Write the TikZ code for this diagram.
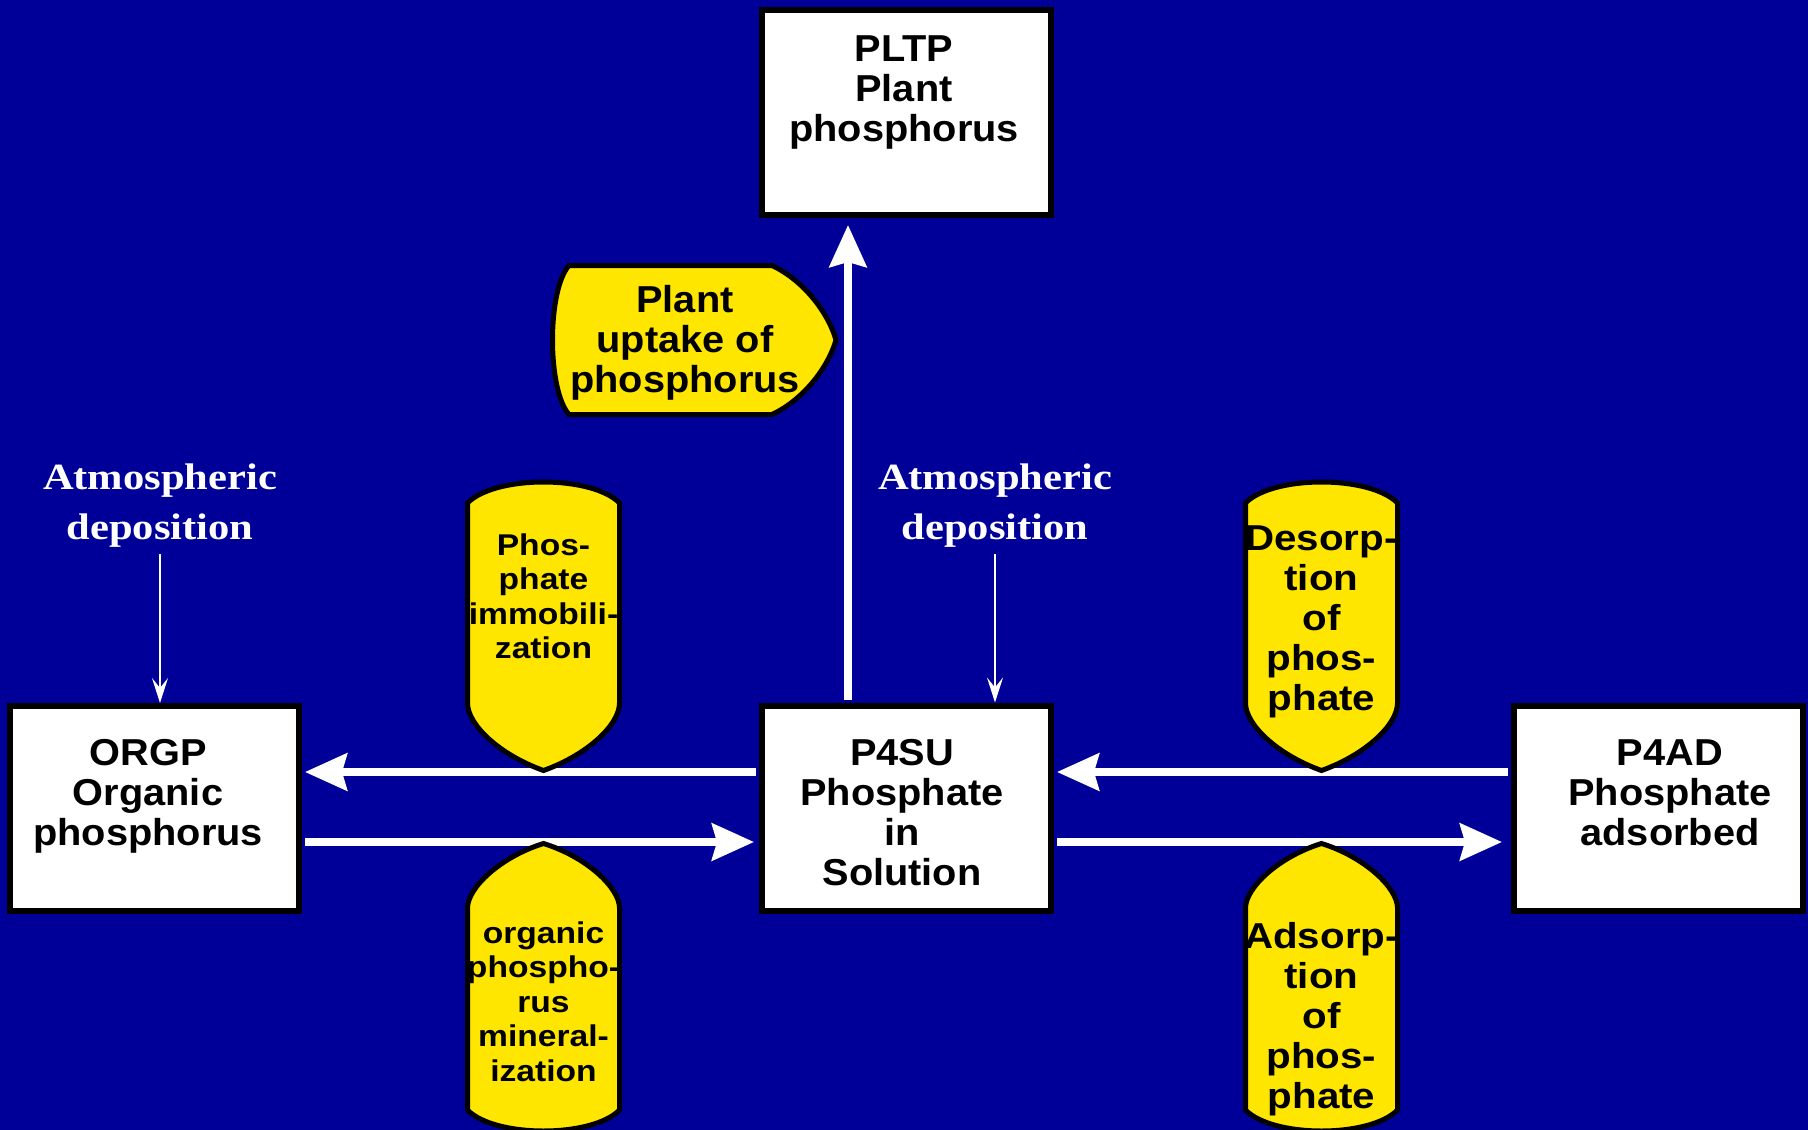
\documentclass[tikz,border=0pt]{standalone}
\usepackage{fontspec}
\newfontfamily\boxfont{Liberation Sans}[FakeStretch=1.06]
\newfontfamily\tagfont{Liberation Sans}[FakeStretch=1.12]
\newfontfamily\atmfont{Liberation Serif}[FakeStretch=1.15]
\usetikzlibrary{arrows.meta,calc}
\definecolor{slide}{RGB}{0,0,153}
\definecolor{tagyellow}{RGB}{255,230,0}

\tikzset{
  pool/.style={draw=black, line width=6pt, fill=white,
    minimum width=289pt, minimum height=205pt, inner sep=0pt},
  pooltext/.style={anchor=north, inner sep=0pt, align=center, text=black,
    font=\boxfont\bfseries\fontsize{37.5}{40}\selectfont},
  tag/.style={draw=black, line width=5pt, fill=tagyellow},
  tagbig/.style={anchor=north, inner sep=0pt, align=center, text=black,
    font=\tagfont\bfseries\fontsize{36}{40}\selectfont},
  tagsmall/.style={anchor=north, inner sep=0pt, align=center, text=black,
    font=\tagfont\bfseries\fontsize{30}{34.5}\selectfont},
  atmtext/.style={anchor=north, inner sep=0pt, align=center, text=white,
    font=\atmfont\bfseries\fontsize{37}{50}\selectfont},
  flow/.style={draw=white, line width=7.5pt,
    -{Stealth[length=42pt,width=37pt,inset=5pt]}},
  drop/.style={draw=white, line width=2.2pt,
    -{Stealth[length=25pt,width=16pt,inset=10pt]}}
}

\begin{document}
\begin{tikzpicture}[x=1pt,y=-1pt]
  % slide background and page frame
  \fill[slide] (0,0) rectangle (1808,1130);
  \path[use as bounding box] (0,0) rectangle (1808,1130);
  \clip (0,0) rectangle (1808,1130);

  % phosphorus pools
  \node[pool] (pltp) at (906.5,112.5) {};
  \node[pool] (orgp) at (154.5,808.5) {};
  \node[pool] (p4su) at (906.5,808) {};
  \node[pool] (p4ad) at (1658.5,808) {};

  \node[pooltext] (pltpT) at (904,33.7) {\strut PLTP\\Plant\\phosphorus};
  \node[pooltext] (orgpT) at (148,737) {\strut ORGP\\Organic\\phosphorus};
  \node[pooltext] (p4suT) at (902,737) {\strut P4SU\\Phosphate\\in\\Solution};
  \node[pooltext] (p4adT) at (1670,737) {\strut P4AD\\Phosphate\\adsorbed};

  % atmospheric inputs
  \node[atmtext] (atmL) at (160,454) {\strut Atmospheric\\deposition\strut};
  \node[atmtext] (atmR) at (995,454) {\strut Atmospheric\\deposition\strut};
  \draw[drop] (atmL.south) -- (atmL.south |- orgp.north);
  \draw[drop] (atmR.south) -- (atmR.south |- p4su.north);

  % fluxes between pools
  \draw[flow, shorten <=3pt, shorten >=7pt]
    ($(p4su.north)+(-58.5,0)$) -- ($(pltp.south)+(-58.5,0)$);
  \draw[flow, shorten <=3pt, shorten >=3pt]
    ($(p4su.west)+(0,-36)$) -- ($(orgp.east)+(0,-36.5)$);
  \draw[flow, shorten <=3pt, shorten >=5pt]
    ($(orgp.east)+(0,33.5)$) -- ($(p4su.west)+(0,34)$);
  \draw[flow, shorten <=3pt, shorten >=3pt]
    ($(p4ad.west)+(0,-36)$) -- ($(p4su.east)+(0,-36)$);
  \draw[flow, shorten <=3pt, shorten >=9pt]
    ($(p4su.east)+(0,34)$) -- ($(p4ad.west)+(0,34)$);

  % process tags
  \filldraw[tag] (569,414.5) .. controls (547,390) and (547,290) .. (569,265.5)
    -- (772,265.5) .. controls (803,280) and (828,312) .. (836,340)
    .. controls (828,368) and (803,400) .. (772,414.5) -- cycle;
  \node[pooltext] (uptT) at (685,284) {\strut Plant\\uptake of\\phosphorus};

  \filldraw[tag] (467.5,503) .. controls (495,475) and (592,475) .. (619.5,503)
    -- (619.5,703) .. controls (619.5,725) and (587,755) .. (543.5,770.5)
    .. controls (500,755) and (467.5,725) .. (467.5,703) -- cycle;
  \node[tagsmall] (immT) at (543.5,531) {\strut Phos-\\phate\\immobili-\\zation};

  \filldraw[tag] (467.5,908) .. controls (467.5,888) and (500,857) .. (543.5,843.5)
    .. controls (587,857) and (619.5,888) .. (619.5,908)
    -- (619.5,1110) .. controls (592,1138) and (495,1138) .. (467.5,1110) -- cycle;
  \node[tagsmall] (minT) at (543.5,919) {\strut organic\\phospho-\\rus\\mineral-\\ization};

  \filldraw[tag] (1245.5,503) .. controls (1273,475) and (1370,475) .. (1397.5,503)
    -- (1397.5,703) .. controls (1397.5,725) and (1365,755) .. (1321.5,770.5)
    .. controls (1278,755) and (1245.5,725) .. (1245.5,703) -- cycle;
  \node[tagbig] (desT) at (1321.5,522) {\strut Desorp-\\tion\\of\\phos-\\phate};

  \filldraw[tag] (1245.5,908) .. controls (1245.5,888) and (1278,857) .. (1321.5,843.5)
    .. controls (1365,857) and (1397.5,888) .. (1397.5,908)
    -- (1397.5,1110) .. controls (1370,1138) and (1273,1138) .. (1245.5,1110) -- cycle;
  \node[tagbig] (adsT) at (1321.5,920) {\strut Adsorp-\\tion\\of\\phos-\\phate};
\end{tikzpicture}
\end{document}
